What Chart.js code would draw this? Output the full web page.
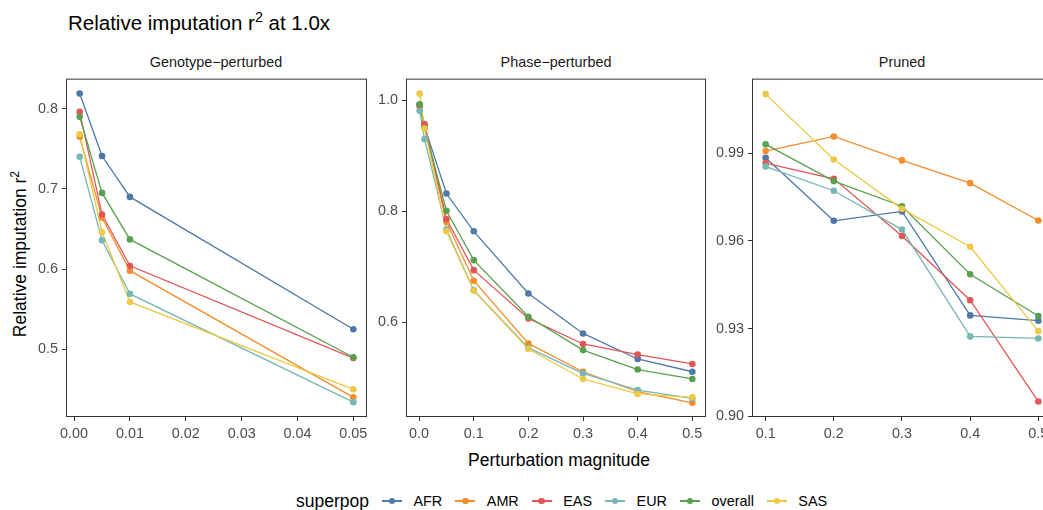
<!DOCTYPE html>
<html>
<head>
<meta charset="utf-8">
<script src="https://cdn.jsdelivr.net/npm/chart.js@4.4.0/dist/chart.umd.min.js"></script>
<style>
  body { margin: 0; width: 1043px; height: 510px; overflow: hidden; background: #fff; position: relative;
         font-family: "Liberation Sans", Arial, sans-serif; }
  canvas { position: absolute; }
  .txt { position: absolute; white-space: nowrap; }
  .strip { position: absolute; top: 54px; width: 300px; text-align: center; font-size: 14.4px; line-height: 16px; color: #1a1a1a; }
  #legend { position: absolute; left: 296px; top: 489px; display: flex; align-items: center; height: 24px; }
  #legend .ttl { font-size: 17.5px; margin-right: 13px; }
  #legend .key { position: relative; width: 20px; height: 12px; margin-right: 11.5px; }
  #legend .lab { font-size: 14.4px; color: #000; margin-right: 13px; }
</style>
</head>
<body>
<div class="txt" style="left:68px;top:12px;font-size:20.5px;line-height:22px;">Relative imputation r<sup style="font-size:0.7em;vertical-align:0.55em;line-height:0">2</sup> at 1.0x</div>
<div class="strip" style="left:66px;">Genotype−perturbed</div>
<div class="strip" style="left:406px;">Phase−perturbed</div>
<div class="strip" style="left:752px;">Pruned</div>
<div class="txt" style="left:-130px;top:244px;width:300px;height:20px;text-align:center;font-size:17.5px;line-height:20px;transform:rotate(-90deg);">Relative imputation r<sup style="font-size:0.7em;vertical-align:0.55em;line-height:0">2</sup></div>
<div class="txt" style="left:409px;top:450px;width:300px;text-align:center;font-size:17.5px;line-height:20px;">Perturbation magnitude</div>
<div id="legend"><span class="ttl">superpop</span></div>

<canvas id="c1" width="381" height="391" style="left:6px;top:66px"></canvas>
<canvas id="c2" width="380" height="391" style="left:346px;top:66px"></canvas>
<canvas id="c3" width="380" height="391" style="left:692px;top:66px"></canvas>

<script>
var superpops = ['AFR', 'AMR', 'EAS', 'EUR', 'overall', 'SAS'];
var colors = ['#4e79a7', '#f28e2b', '#e15759', '#76b7b2', '#59a14f', '#edc948'];

// Genotype-perturbed
var genoX = [0.001, 0.005, 0.01, 0.05];
var genoAFR = [0.819, 0.741, 0.690, 0.525];
var genoAMR = [0.765, 0.664, 0.598, 0.440];
var genoEAS = [0.796, 0.668, 0.604, 0.489];
var genoEUR = [0.740, 0.636, 0.569, 0.434];
var genoOverall = [0.790, 0.695, 0.637, 0.490];
var genoSAS = [0.768, 0.646, 0.559, 0.450];
var genoXTicks = [0, 0.01, 0.02, 0.03, 0.04, 0.05];
var genoYTicks = [0.5, 0.6, 0.7, 0.8];

// Phase-perturbed
var phaseX = [0.001, 0.01, 0.05, 0.1, 0.2, 0.3, 0.4, 0.5];
var phaseAFR = [0.992, 0.952, 0.832, 0.764, 0.652, 0.580, 0.534, 0.511];
var phaseAMR = [0.990, 0.953, 0.781, 0.675, 0.562, 0.511, 0.475, 0.455];
var phaseEAS = [0.990, 0.957, 0.786, 0.694, 0.607, 0.561, 0.542, 0.525];
var phaseEUR = [0.981, 0.930, 0.767, 0.658, 0.554, 0.508, 0.478, 0.463];
var phaseOverall = [0.993, 0.950, 0.801, 0.712, 0.610, 0.550, 0.515, 0.498];
var phaseSAS = [1.012, 0.949, 0.764, 0.657, 0.552, 0.498, 0.471, 0.465];
var phaseXTicks = [0, 0.1, 0.2, 0.3, 0.4, 0.5];
var phaseYTicks = [0.6, 0.8, 1.0];

// Pruned
var pruneX = [0.1, 0.2, 0.3, 0.4, 0.5];
var pruneAFR = [0.9885, 0.9669, 0.9701, 0.9345, 0.9327];
var pruneAMR = [0.9908, 0.9958, 0.9876, 0.9798, 0.9670];
var pruneEAS = [0.9867, 0.9813, 0.9617, 0.9397, 0.9050];
var pruneEUR = [0.9855, 0.9772, 0.9639, 0.9273, 0.9266];
var pruneOverall = [0.9931, 0.9805, 0.9719, 0.9486, 0.9343];
var pruneSAS = [1.0103, 0.9879, 0.9710, 0.9580, 0.9291];
var pruneXTicks = [0.1, 0.2, 0.3, 0.4, 0.5];
var pruneYTicks = [0.90, 0.93, 0.96, 0.99];

// box round the panel, like ggplot's panel.border
var panelBox = {
  id: 'panelBox',
  afterDraw: function(chart) {
    var a = chart.chartArea, ctx = chart.ctx;
    ctx.save();
    ctx.strokeStyle = '#333333';
    ctx.lineWidth = 1;
    ctx.strokeRect(a.left + 0.5, a.top + 0.5, a.right - a.left - 1, a.bottom - a.top - 1);
    ctx.restore();
  }
};

function makePanel(id, xs, series, xr, yr, xTicks, yTicks, xDec, yDec) {
  var lines = [], points = [];
  series.forEach(function(vals, i) {
    var pts = vals.map(function(v, j) { return { x: xs[j], y: v }; });
    lines.push({ label: superpops[i], data: pts, borderColor: colors[i], borderWidth: 1.3,
                 pointRadius: 0, tension: 0, order: 20 - i });
    points.push({ label: superpops[i], data: pts, showLine: false, backgroundColor: colors[i],
                  borderWidth: 0, pointRadius: 3.3, order: 10 - i });
  });
  var tickFont = { family: '"Liberation Sans", Arial, sans-serif', size: 14.4 };
  return new Chart(document.getElementById(id), {
    type: 'line',
    data: { datasets: lines.concat(points) },
    options: {
      responsive: false,
      animation: false,
      layout: { padding: { top: 10, right: 20, left: 0, bottom: 0 } },
      plugins: { legend: { display: false }, tooltip: { enabled: false } },
      scales: {
        x: {
          type: 'linear', min: xr[0], max: xr[1],
          afterBuildTicks: function(s) { s.ticks = xTicks.map(function(v) { return { value: v }; }); },
          afterFit: function(s) { s.height = 40; },
          ticks: { color: '#4d4d4d', font: tickFont, padding: 4, maxRotation: 0, autoSkip: false,
                   callback: function(v) { return v.toFixed(xDec); } },
          grid: { drawOnChartArea: false, drawTicks: true, tickLength: 4, tickColor: '#333333', color: '#333333' },
          border: { display: false }
        },
        y: {
          type: 'linear', min: yr[0], max: yr[1],
          afterBuildTicks: function(s) { s.ticks = yTicks.map(function(v) { return { value: v }; }); },
          afterFit: function(s) { s.width = 60; },
          ticks: { color: '#4d4d4d', font: tickFont, padding: 4, autoSkip: false,
                   callback: function(v) { return v.toFixed(yDec); } },
          grid: { drawOnChartArea: false, drawTicks: true, tickLength: 4, tickColor: '#333333', color: '#333333' },
          border: { display: false }
        }
      }
    },
    plugins: [panelBox]
  });
}

makePanel('c1', genoX, [genoAFR, genoAMR, genoEAS, genoEUR, genoOverall, genoSAS],
  [-0.00145, 0.05245], [0.4155, 0.8375], genoXTicks, genoYTicks, 2, 1);
makePanel('c2', phaseX, [phaseAFR, phaseAMR, phaseEAS, phaseEUR, phaseOverall, phaseSAS],
  [-0.024, 0.525], [0.4295, 1.039], phaseXTicks, phaseYTicks, 1, 1);
makePanel('c3', pruneX, [pruneAFR, pruneAMR, pruneEAS, pruneEUR, pruneOverall, pruneSAS],
  [0.08, 0.52], [0.8997, 1.0156], pruneXTicks, pruneYTicks, 1, 2);

// legend
var legend = document.getElementById('legend');
superpops.forEach(function(name, i) {
  var key = document.createElement('span');
  key.className = 'key';
  key.innerHTML = '<span style="position:absolute;left:0;top:5.4px;width:20px;height:1.3px;background:' + colors[i] + '"></span>' +
    '<span style="position:absolute;left:6.7px;top:2.7px;width:6.6px;height:6.6px;border-radius:50%;background:' + colors[i] + '"></span>';
  var lab = document.createElement('span');
  lab.className = 'lab';
  lab.textContent = name;
  legend.appendChild(key);
  legend.appendChild(lab);
});
</script>
</body>
</html>
